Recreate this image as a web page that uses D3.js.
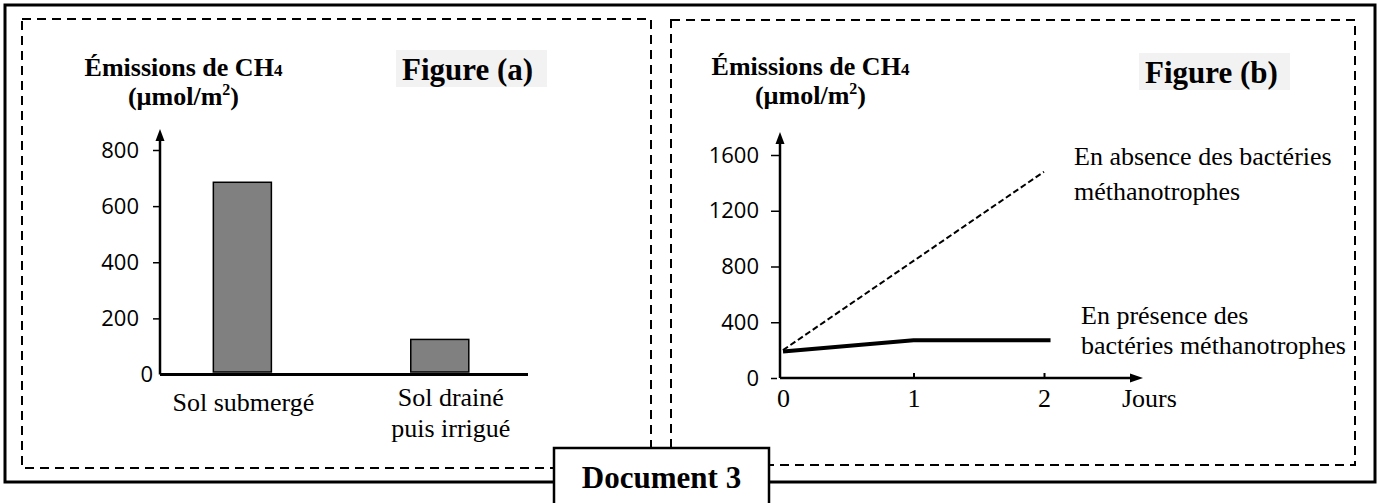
<!DOCTYPE html>
<html>
<head>
<meta charset="utf-8">
<script src="https://cdn.jsdelivr.net/npm/d3@7/dist/d3.min.js"></script>
<style>
  html, body { margin: 0; padding: 0; background: #fff; }
  svg { display: block; }
</style>
</head>
<body>
<svg id="chart" width="1381" height="503"></svg>
<script>
// ---------- DATA ----------
const categoriesA = ["Sol submergé", "Sol drainé|puis irrigué"];
const valuesA = [685, 125];
const yTicksA = [0, 200, 400, 600, 800];

const daysB = [0, 1, 2];
const absenceB = [200, 840, 1480];          // sans bactéries méthanotrophes (tirets)
const presenceDaysB = [0, 1, 2.05];
const presenceB = [190, 270, 270];          // avec bactéries méthanotrophes (trait plein)
const yTicksB = [0, 400, 800, 1200, 1600];
const xTicksB = [0, 1, 2];

const titleText = "Émissions de CH";
const titleSub = "4";
const figureLabels = ["Figure (a)", "Figure (b)"];
const annotAbsence = ["En absence des bactéries", "méthanotrophes"];
const annotPresence = ["En présence des", "bactéries méthanotrophes"];
const xAxisTitleB = "Jours";
const documentLabel = "Document 3";

// ---------- SETUP ----------
const svg = d3.select("#chart");
const SERIF = '"Liberation Serif", "Times New Roman", serif';
const SANS = '"Open Sans", "Noto Sans", sans-serif';
const fmt = d3.format("d");

// Frames
svg.append("rect").attr("x", 5).attr("y", 5).attr("width", 1370).attr("height", 477)
  .attr("fill", "none").attr("stroke", "#000").attr("stroke-width", 3);
svg.append("rect").attr("x", 22).attr("y", 19).attr("width", 629).attr("height", 449)
  .attr("fill", "none").attr("stroke", "#000").attr("stroke-width", 2).attr("stroke-dasharray", "9,6");
svg.append("rect").attr("x", 671).attr("y", 20).attr("width", 684).attr("height", 445)
  .attr("fill", "none").attr("stroke", "#000").attr("stroke-width", 2).attr("stroke-dasharray", "9,6");

function yTitle(cx, y1, y2) {
  const t = svg.append("text").attr("x", cx).attr("y", y1).attr("text-anchor", "middle")
    .attr("font-family", SERIF).attr("font-weight", "bold").attr("font-size", 26);
  t.append("tspan").text(titleText);
  t.append("tspan").attr("font-size", 17).text(titleSub);
  const u = svg.append("text").attr("x", cx).attr("y", y2).attr("text-anchor", "middle")
    .attr("font-family", SERIF).attr("font-weight", "bold").attr("font-size", 26);
  u.append("tspan").text("(µmol/m");
  u.append("tspan").attr("font-size", 16).attr("dy", -10).text("2");
  u.append("tspan").attr("dy", 10).text(")");
}
function figLabel(txt, bx, by, bw, bh, tx, ty) {
  svg.append("rect").attr("x", bx).attr("y", by).attr("width", bw).attr("height", bh).attr("fill", "#f2f2f2");
  svg.append("text").attr("x", tx).attr("y", ty).attr("font-family", SERIF).attr("font-weight", "bold")
    .attr("font-size", 31).text(txt);
}
function arrowUp(x, tipY) {
  svg.append("path").attr("d", `M${x},${tipY} L${x-4.5},${tipY+12} L${x+4.5},${tipY+12} Z`).attr("fill", "#000");
}
function arrowRight(tipX, y) {
  svg.append("path").attr("d", `M${tipX},${y} L${tipX-13},${y-4.5} L${tipX-13},${y+4.5} Z`).attr("fill", "#000");
}

// ---------- FIGURE (a) ----------
yTitle(183.5, 76, 105);
figLabel(figureLabels[0], 396, 50, 151, 37, 402, 80);

const axA = 160, x1A = 528;
const yA = d3.scaleLinear().domain([0, 800]).range([374.5, 150]);
const xA = d3.scaleBand().domain(categoriesA).range([axA, x1A])
  .paddingInner(0.706).paddingOuter(0.285).align(0.474);

svg.append("g").selectAll("rect").data(valuesA).join("rect")
  .attr("x", (d, i) => xA(categoriesA[i]))
  .attr("y", d => yA(d))
  .attr("width", xA.bandwidth())
  .attr("height", d => yA(0) - 2.5 - yA(d))
  .attr("fill", "#808080").attr("stroke", "#000").attr("stroke-width", 1.5);

const gyA = svg.append("g").attr("transform", `translate(${axA},0)`)
  .call(d3.axisLeft(yA).tickValues(yTicksA).tickFormat(fmt).tickSize(7).tickPadding(14));
gyA.select(".domain").remove();
gyA.selectAll(".tick line").attr("stroke-width", 1.5);
gyA.selectAll(".tick text").attr("font-family", SANS).attr("font-size", 22).attr("fill", "#000");
gyA.selectAll(".tick").filter(d => d === 0).select("text").attr("x", -7);
gyA.selectAll(".tick").filter(d => d === 0).select("line").remove();
svg.append("line").attr("x1", axA).attr("x2", axA).attr("y1", yA(0)).attr("y2", 138)
  .attr("stroke", "#000").attr("stroke-width", 2.5);
arrowUp(axA, 129);
svg.append("line").attr("x1", axA).attr("x2", x1A).attr("y1", yA(0)).attr("y2", yA(0))
  .attr("stroke", "#000").attr("stroke-width", 3);

const labA = [
  { lines: categoriesA[0].split("|"), dx: 1, ys: [411] },
  { lines: categoriesA[1].split("|"), dx: 11, ys: [406, 437] }
];
labA.forEach((L, i) => {
  const cx = xA(categoriesA[i]) + xA.bandwidth() / 2 + L.dx;
  L.lines.forEach((ln, j) => {
    svg.append("text").attr("x", cx).attr("y", L.ys[j]).attr("text-anchor", "middle")
      .attr("font-family", SERIF).attr("font-size", 26).text(ln);
  });
});

// ---------- FIGURE (b) ----------
yTitle(810.5, 75, 104);
figLabel(figureLabels[1], 1139, 53, 151, 37, 1145, 83);

const axB = 780;
const yB = d3.scaleLinear().domain([0, 1600]).range([378, 155]);
const xB = d3.scaleLinear().domain([0, 2]).range([783, 1044]);

const gyB = svg.append("g").attr("transform", `translate(${axB},0)`)
  .call(d3.axisLeft(yB).tickValues(yTicksB).tickFormat(fmt).tickSize(9).tickPadding(12));
gyB.select(".domain").remove();
gyB.selectAll(".tick line").attr("stroke-width", 1.5);
gyB.selectAll(".tick text").attr("font-family", SANS).attr("font-size", 22).attr("fill", "#000");
gyB.selectAll(".tick").filter(d => d === 0).select("line").attr("x2", -3).attr("x1", -9);
svg.append("line").attr("x1", axB).attr("x2", axB).attr("y1", yB(0)).attr("y2", 141)
  .attr("stroke", "#000").attr("stroke-width", 2.5);
arrowUp(axB, 132);

const gxB = svg.append("g").attr("transform", `translate(0,${yB(0)})`)
  .call(d3.axisBottom(xB).tickValues(xTicksB).tickFormat(fmt).tickSizeInner(-5).tickSizeOuter(0).tickPadding(10.5));
gxB.select(".domain").remove();
gxB.selectAll(".tick line").attr("stroke-width", 2);
gxB.selectAll(".tick").filter(d => d === 0).select("line").remove();
gxB.selectAll(".tick text").attr("font-family", SERIF).attr("font-size", 26).attr("fill", "#000");
svg.append("line").attr("x1", axB).attr("x2", 1132).attr("y1", yB(0)).attr("y2", yB(0))
  .attr("stroke", "#000").attr("stroke-width", 2.5);
arrowRight(1143, yB(0));
svg.append("text").attr("x", 1122).attr("y", 407).attr("font-family", SERIF).attr("font-size", 26).text(xAxisTitleB);

const line = d3.line().x(d => xB(d[0])).y(d => yB(d[1]));
svg.append("path").datum(daysB.map((d, i) => [d, absenceB[i]]))
  .attr("d", line).attr("fill", "none").attr("stroke", "#000").attr("stroke-width", 2)
  .attr("stroke-dasharray", "6,3");
svg.append("path").datum(presenceDaysB.map((d, i) => [d, presenceB[i]]))
  .attr("d", line).attr("fill", "none").attr("stroke", "#000").attr("stroke-width", 4);

[[annotAbsence, 1074, [165, 200]], [annotPresence, 1081, [324, 354]]].forEach(([lines, x, ys]) => {
  lines.forEach((ln, j) => {
    svg.append("text").attr("x", x).attr("y", ys[j]).attr("font-family", SERIF).attr("font-size", 26).text(ln);
  });
});

// ---------- DOCUMENT BOX ----------
svg.append("rect").attr("x", 554).attr("y", 448).attr("width", 215).attr("height", 80)
  .attr("fill", "#fff").attr("stroke", "#000").attr("stroke-width", 2.5);
svg.append("text").attr("x", 661.5).attr("y", 488).attr("text-anchor", "middle")
  .attr("font-family", SERIF).attr("font-weight", "bold").attr("font-size", 31).text(documentLabel);
</script>
</body>
</html>
